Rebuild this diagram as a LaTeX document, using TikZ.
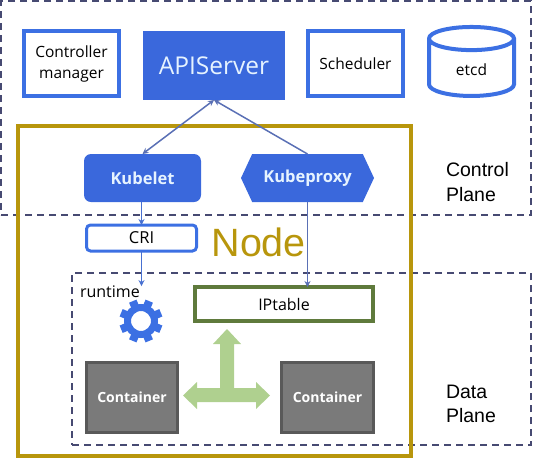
\documentclass[tikz,border=0pt]{standalone}
\usepackage{fontspec}
\setmainfont{Open Sans}
\newfontfamily\labelfont{Liberation Sans}
\usepackage{xcolor}
\usetikzlibrary{arrows.meta,positioning,shapes.geometric,shapes.symbols}
\definecolor{kblue}{HTML}{3A68DC}
\definecolor{kedge}{HTML}{3C70E3}
\definecolor{kgold}{HTML}{B8960C}
\definecolor{kdash}{HTML}{474A72}
\definecolor{karrow}{HTML}{5A70B5}
\definecolor{kolive}{HTML}{5F7A3C}
\definecolor{kflow}{HTML}{AFD08F}
\definecolor{ktext}{HTML}{E6F3FF}

\begin{document}
\begin{tikzpicture}[
    x=1pt, y=-1pt,
    every node/.style={outer sep=0pt, inner sep=1pt, align=center},
    plane/.style={draw=kdash, line width=1.5pt, dash pattern=on 7pt off 5pt},
    frame/.style={draw=kgold, line width=4pt, minimum width=393pt, minimum height=330pt},
    comp/.style={draw=kedge, line width=4pt, fill=white, minimum width=95pt, minimum height=65pt,
                 font=\fontsize{15.5}{21}\selectfont},
    solid blue/.style={fill=kblue, text=ktext, font=\fontsize{16.5}{18}\selectfont\bfseries},
    cont/.style={draw=black!65, line width=3pt, fill=black!52, text=white, minimum height=70pt,
                 font=\fontsize{14}{18}\selectfont\bfseries},
    side/.style={font=\labelfont\fontsize{19.5}{24.5}\selectfont, align=left, anchor=west, inner sep=0pt},
    link/.style={draw=karrow, line width=1.5pt, -{Stealth[length=6pt,width=6pt]}},
    ]
\useasboundingbox (0,0) rectangle (533,459);
\node[plane, minimum width=530pt, minimum height=214pt] (control) at (266,108) {};
\node[plane, minimum width=459pt, minimum height=172pt] (data) at (301.5,359) {};
\node[frame] (nodebox) at (214.5,291) {};

\node[comp] (ctrl) at (71.5,63.5) {Controller\\manager};
\node[solid blue, right=24pt of ctrl, yshift=-2pt, minimum width=142pt, minimum height=69pt,
      font=\fontsize{24.5}{26}\selectfont] (api) {APIServer};
\node[comp, right=23pt of api, yshift=2pt] (sched) {Scheduler};
\node[draw=kedge, line width=4pt, fill=white, cylinder, shape border rotate=90, aspect=0.7,
      minimum width=85pt, minimum height=69pt, font=\fontsize{15.5}{21}\selectfont] (etcd) at (471.5,69.5) {etcd};

\node[solid blue, rounded corners=7pt, below=54pt of api, xshift=-71.5pt,
      minimum width=117pt, minimum height=48pt] (kubelet) {Kubelet};
\node[solid blue, signal, signal to=west and east, signal pointer angle=130,
      right=40pt of kubelet, minimum width=133pt, minimum height=48pt] (kubeproxy) {Kubeproxy};
\node[draw=kedge, line width=3pt, rounded corners=4pt, fill=white, below=23pt of kubelet, xshift=-1pt,
      minimum width=110pt, minimum height=26pt, font=\fontsize{16.5}{18}\selectfont] (cri) {CRI};
\node[right=15pt of cri, yshift=-4pt, inner sep=0pt, text=kgold, font=\labelfont\fontsize{39.5}{40}\selectfont] (nodelabel) {Node};

\node[draw=kolive, line width=4pt, fill=white, below=85pt of kubeproxy, xshift=-23.5pt,
      minimum width=178pt, minimum height=34pt, font=\fontsize{16}{18}\selectfont] (iptable) {IPtable};
\node[cont, below=111.5pt of cri, xshift=-9.5pt, minimum width=91pt] (contl) {Container};
\node[cont, right=104pt of contl, minimum width=92pt] (contr) {Container};

\node[font=\fontsize{16}{18}\selectfont, anchor=west, inner sep=0pt] (runtime) at (80,292) {runtime};
\node[circle, draw=kedge, line width=7pt, minimum size=27pt] (gear) at (141,321) {};
\foreach \a in {0,45,...,315}
  \fill[kedge, rotate around={\a+22.5:(gear.center)}] (137,299.5) rectangle (145,310);
\coordinate (runtimein) at (cri.south |- runtime.north);

\node[side] (controlplane) at (446,182) {Control\\Plane};
\node[side] (dataplane) at (446,404) {Data\\Plane};

\draw[link, {Stealth[length=6pt,width=6pt]}-{Stealth[length=6pt,width=6pt]}] (kubelet.north) -- (api.south);
\draw[link] (kubeproxy.north) -- (api.south);
\draw[link, draw=kedge!60!karrow] (kubelet.south -| cri.north) -- (cri.north);
\draw[link, draw=kedge!60!karrow] (cri.south) -- (runtimein);
\draw[link] (kubeproxy.south) -- (kubeproxy.south |- iptable.north);

\fill[kflow] (227,329) -- (241,344) -- (234,344) -- (234,388) -- (256,388) -- (256,382) -- (270,395.5)
  -- (256,409) -- (256,402) -- (197,402) -- (197,409) -- (183,395.5) -- (197,382) -- (197,388)
  -- (220,388) -- (220,344) -- (213,344) -- cycle;
\end{tikzpicture}
\end{document}
